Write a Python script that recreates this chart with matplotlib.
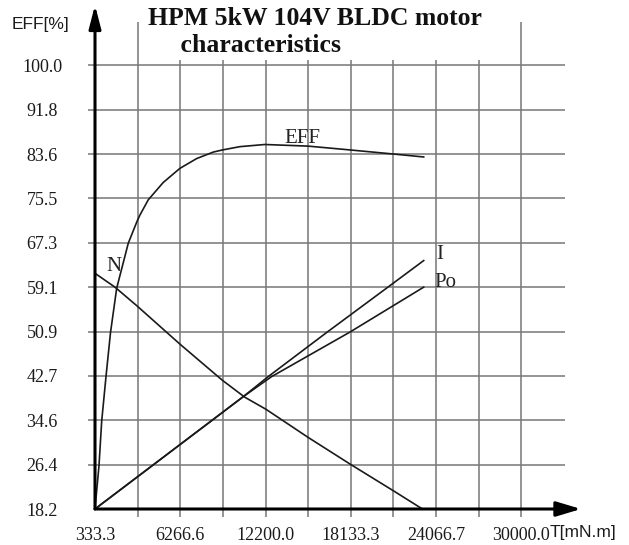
import matplotlib
matplotlib.use('Agg')
import matplotlib.pyplot as plt
import numpy as np

# axis ranges / labels
x_min, x_max = 333.3, 30000.0
y_min, y_max = 18.2, 100.0
x_labels = ['333.3', '6266.6', '12200.0', '18133.3', '24066.7', '30000.0']
y_labels = ['18.2', '26.4', '34.6', '42.7', '50.9', '59.1', '67.3', '75.5', '83.6', '91.8', '100.0']

# curves (torque in mN.m)
eff_torque = [333.3, 611.4, 799.2, 1098, 1411, 1842, 2649, 3254, 3462, 4039, 5082,
              6243, 7404, 8559, 9212, 10415, 12153, 15164, 18063, 21074, 23208]
eff = [18.2, 26.2, 34.4, 42.6, 50.7, 58.9, 67.2, 71.2, 72.4, 75.2, 78.4,
       81.0, 82.8, 84.0, 84.4, 85.0, 85.4, 85.1, 84.4, 83.65, 83.1]

n_torque = [333.3, 1724, 3275, 6243, 9212, 10763, 12223, 15164, 18134, 21074, 23118]
n_speed = [61.65, 59.1, 55.6, 48.6, 41.9, 38.8, 36.6, 31.4, 26.4, 21.6, 18.2]

i_torque = [333.3, 10645, 12383, 16485, 20615, 23208]
current = [18.2, 38.9, 42.6, 50.8, 58.9, 64.0]

po_torque = [333.3, 10645, 12619, 18063, 23208]
power = [18.2, 38.9, 42.6, 50.8, 59.1]

W, H = 629, 545
fig = plt.figure(figsize=(W / 100, H / 100), dpi=100)
# axes box in pixels: x 95..521.3, y 65.3..509
ax = fig.add_axes([95 / W, 1 - 509 / H, (521.3 - 95) / W, (509 - 65.3) / H])
ax.set_xlim(x_min, x_max)
ax.set_ylim(y_min, y_max)
for s in ax.spines.values():
    s.set_visible(False)

x_grid = np.linspace(x_min, x_max, 11)
y_grid = np.linspace(y_min, y_max, 11)
x_step = x_grid[1] - x_grid[0]
y_step = y_grid[1] - y_grid[0]
xpx = (521.3 - 95) / 10   # pixels per grid step
ypx = (509 - 65.3) / 10

grid_kw = dict(color='#777777', lw=1.1, clip_on=False, zorder=1)
ax.vlines(x_grid[1:], y_min - 8 / ypx * y_step, y_max + (65.3 - 22) / ypx * y_step, **grid_kw)
ax.hlines(y_grid[1:], x_min - 7 / xpx * x_step, x_max + (565 - 521.3) / xpx * x_step, **grid_kw)

# axes with arrows
ax.annotate('', xy=(x_min, y_max + (65.3 - 5) / ypx * y_step), xytext=(x_min, y_min),
            arrowprops=dict(arrowstyle='-|>,head_length=1.4,head_width=0.36', lw=2.2,
                            color='black', shrinkA=0, shrinkB=0),
            annotation_clip=False, zorder=4)
ax.annotate('', xy=(x_max + (581 - 521.3) / xpx * x_step, y_min), xytext=(x_min, y_min),
            arrowprops=dict(arrowstyle='-|>,head_length=1.5,head_width=0.45', lw=2.2,
                            color='black', shrinkA=0, shrinkB=0),
            annotation_clip=False, zorder=4)

line_kw = dict(color='#1a1a1a', lw=1.2, zorder=3, clip_on=False)
ax.plot(eff_torque, eff, **line_kw)
ax.plot(n_torque, n_speed, **line_kw)
ax.plot(i_torque, current, **line_kw)
ax.plot(po_torque, power, **line_kw)

serif = 'Liberation Serif'
lab_kw = dict(family=serif, fontsize=15, color='#222222', ha='left', va='baseline')
ax.text(13544, 85.62, 'EFF', **lab_kw)
ax.text(1098, 62.13, 'N', **lab_kw)
ax.text(24112, 64.23, 'I', **lab_kw)
ax.text(23973, 59.18, 'Po', **lab_kw)

ax.set_xticks(x_grid[::2], labels=x_labels)
ax.set_yticks(y_grid, labels=y_labels)
ax.tick_params(length=0)
ax.tick_params(axis='x', pad=13)
ax.tick_params(axis='y', pad=38)
for t in ax.get_xticklabels() + ax.get_yticklabels():
    t.set_family(serif)
    t.set_fontsize(13)
    t.set_color('#1a1a1a')
for t in ax.get_yticklabels():
    t.set_ha('center')

fig.text(148 / W, 1 - 7 / H, 'HPM 5kW 104V BLDC motor\n     characteristics',
         family=serif, fontweight='bold', fontsize=18.5, ha='left', va='top',
         linespacing=1.2, color='#111111',
         bbox=dict(boxstyle='square,pad=0.12', fc='white', ec='none'))
fig.text(12 / W, 1 - 29 / H, 'EFF[%]', family='Liberation Sans', fontsize=12.5,
         ha='left', va='baseline', color='#1a1a1a')
fig.text(550 / W, 1 - 537 / H, 'T[mN.m]', family='Liberation Sans', fontsize=12.5,
         ha='left', va='baseline', color='#1a1a1a')

fig.savefig('out.png', dpi=100)
